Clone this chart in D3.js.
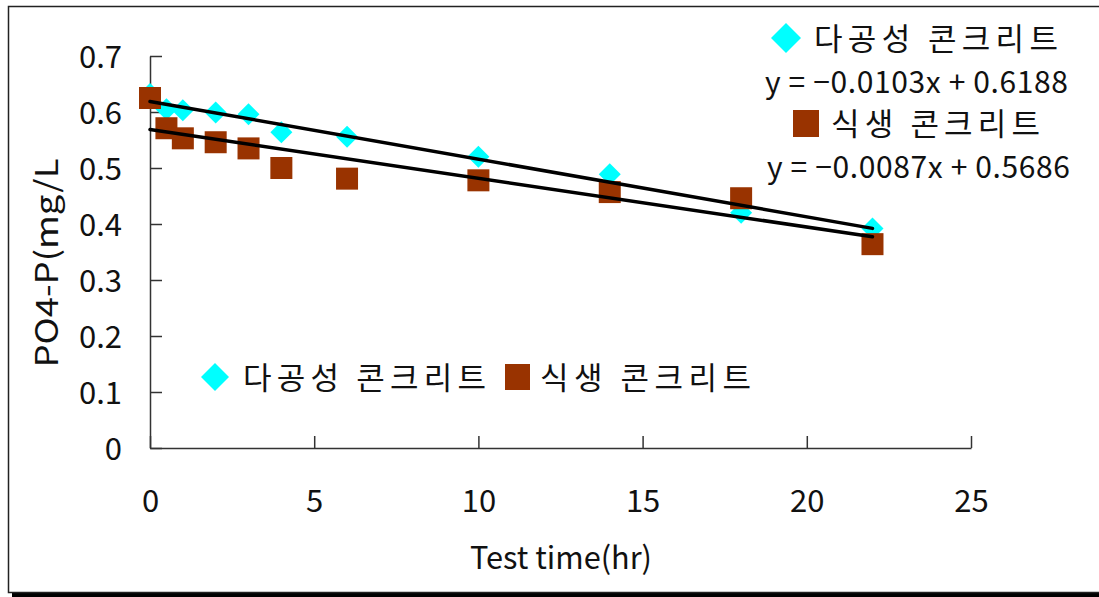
<!DOCTYPE html>
<html>
<head>
<meta charset="utf-8">
<script src="https://cdn.jsdelivr.net/npm/d3@7"></script>
<style>
  body { margin: 0; background: #fff; }
  svg text { font-family: "Noto Sans CJK KR", "Noto Sans", sans-serif; fill: #111; }
</style>
</head>
<body>
<div id="chart"></div>
<script>
// test time (hr)
const times = [0, 0.5, 1, 2, 3, 4, 6, 10, 14, 18, 22];
// PO4-P (mg/L)
const porous = [0.632, 0.605, 0.603, 0.599, 0.596, 0.564, 0.556, 0.520, 0.489, 0.420, 0.392];
const vegetation = [0.625, 0.571, 0.553, 0.546, 0.535, 0.500, 0.481, 0.478, 0.457, 0.446, 0.364];
const seriesNames = ["다공성 콘크리트", "식생 콘크리트"];
// linear trend lines shown on chart: slope, intercept
const slopes = [-0.0103, -0.0087];
const intercepts = [0.6188, 0.5686];
const xTicks = [0, 5, 10, 15, 20, 25];
const yTicks = [0, 0.1, 0.2, 0.3, 0.4, 0.5, 0.6, 0.7];

const W = 1099, H = 597;
const svg = d3.select("#chart").append("svg")
    .attr("width", W).attr("height", H);

// outer frame with shadow
svg.append("rect").attr("x", 12).attr("y", 10).attr("width", W).attr("height", H - 10)
    .attr("fill", "#000");
svg.append("rect").attr("x", 8.5).attr("y", 6.5).attr("width", W).attr("height", 586)
    .attr("fill", "#fff").attr("stroke", "#222").attr("stroke-width", 1.5);

const x = d3.scaleLinear().domain([0, 25]).range([150, 971]);
const y = d3.scaleLinear().domain([0, 0.7]).range([448, 56]);

// axes
const xAxis = svg.append("g").attr("transform", "translate(0,448)")
    .call(d3.axisBottom(x).tickValues(xTicks).tickSizeInner(-12).tickSizeOuter(0).tickFormat(d3.format("d")));
xAxis.selectAll("text").attr("y", 64).attr("dy", 0).style("font-size", "31px");

const yAxis = svg.append("g").attr("transform", "translate(150,0)")
    .call(d3.axisLeft(y).tickValues(yTicks).tickSizeInner(-12).tickSizeOuter(0).tickPadding(28)
        .tickFormat(d => d === 0 ? "0" : d3.format(".1f")(d)));
yAxis.selectAll("text").style("font-size", "31px").attr("dy", "0.36em");

svg.selectAll(".domain, .tick line").attr("stroke", "#333").attr("stroke-width", 1.5);

// axis titles
svg.append("text").attr("x", 561).attr("y", 569).attr("text-anchor", "middle")
    .attr("textLength", 182).attr("lengthAdjust", "spacingAndGlyphs")
    .style("font-size", "31px").text("Test time(hr)");
svg.append("text").attr("transform", "translate(58,263) rotate(-90)").attr("text-anchor", "middle")
    .attr("textLength", 209).attr("lengthAdjust", "spacingAndGlyphs")
    .style("font-size", "31px").text("PO4-P(mg/L");

const diamond = (cx, cy, r) => `M${cx},${cy - r}L${cx + r},${cy}L${cx},${cy + r}L${cx - r},${cy}Z`;

// points
svg.append("g").selectAll("path").data(times).join("path")
    .attr("d", (d, i) => diamond(x(d), y(porous[i]), 11))
    .attr("fill", "#00ffff");
svg.append("g").selectAll("rect").data(times).join("rect")
    .attr("x", (d, i) => x(d) - 11).attr("y", (d, i) => y(vegetation[i]) - 11)
    .attr("width", 22).attr("height", 22)
    .attr("fill", "#993300");

// trend lines
const trend = svg.append("g");
slopes.forEach((s, i) => {
  trend.append("line")
    .attr("x1", x(0)).attr("y1", y(intercepts[i]))
    .attr("x2", x(22)).attr("y2", y(intercepts[i] + s * 22))
    .attr("stroke", "#000").attr("stroke-width", 3.5).attr("stroke-linecap", "round");
});

// legend text helper, widths matched to the original layout
const label = (g, tx, ty, txt, len, size) => g.append("text")
    .attr("x", tx).attr("y", ty).attr("textLength", len).attr("lengthAdjust", "spacing")
    .style("font-size", size + "px").text(txt);

// bottom legend
const lg = svg.append("g");
lg.append("path").attr("d", diamond(215, 377, 14)).attr("fill", "#00ffff");
label(lg, 243, 389, seriesNames[0], 243, 31);
lg.append("rect").attr("x", 505).attr("y", 364).attr("width", 25).attr("height", 26).attr("fill", "#993300");
label(lg, 540, 389, seriesNames[1], 211, 31);

// top-right legend with equations
const fmt4 = d3.format(".4f");
const eq = (i) => `y = −${fmt4(-slopes[i])}x + ${fmt4(intercepts[i])}`;
const tl = svg.append("g");
tl.append("path").attr("d", diamond(786, 38, 15)).attr("fill", "#00ffff");
label(tl, 814, 50, seriesNames[0], 244, 31);
label(tl, 765, 93, eq(0), 303, 30);
tl.append("rect").attr("x", 793).attr("y", 110).attr("width", 26).attr("height", 27).attr("fill", "#993300");
label(tl, 831, 135, seriesNames[1], 209, 31);
label(tl, 767, 178, eq(1), 303, 30);
</script>
</body>
</html>
